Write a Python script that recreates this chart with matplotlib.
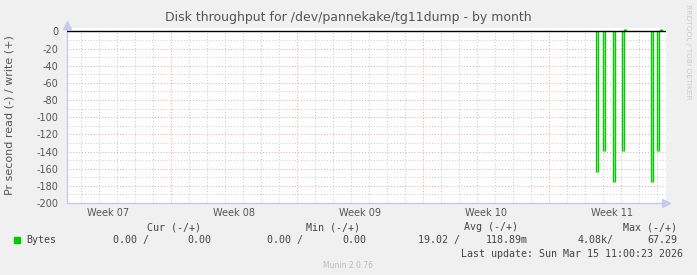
import numpy as np
import matplotlib
matplotlib.use("Agg")
import matplotlib.pyplot as plt

# days counted from Monday of week 07 (00:00)
spike_days = [30.68, 31.04, 31.63, 32.11, 33.71, 34.04]
spike_read = [-164, -139, -176, -139, -176, -139]
write_days = [32.22, 34.22]
write_vals = [3, 3]

week_labels = ["Week 07", "Week 08", "Week 09", "Week 10", "Week 11"]
x_start, x_end = 1.22, 34.5

legend_heads = ["Cur (-/+)", "Min (-/+)", "Avg (-/+)", "Max (-/+)"]
legend_name = "Bytes"
legend_vals = [("0.00 /", "0.00"), ("0.00 /", "0.00"),
               ("19.02 /", "118.89m"), ("4.08k/", "67.29")]
last_update = "Last update: Sun Mar 15 11:00:23 2026"

W, H = 697, 275
fig = plt.figure(figsize=(W / 100, H / 100), dpi=100, facecolor="#f0f0f0")
ax = fig.add_axes([67 / W, (H - 203) / H, (666 - 67) / W, (203 - 28) / H])
ax.set_facecolor("white")
ax.set_xlim(x_start, x_end)
ax.set_ylim(-200, 4)

# grid: gray dotted minor, reddish dotted major
for d in np.arange(0, 36, 1):
    if d % 7 == 0:
        ax.axvline(d, color="#f0a0a0", lw=0.7, ls=(0, (1, 2)), zorder=1)
    else:
        ax.axvline(d, color="#c8c8c8", lw=0.7, ls=(0, (1, 2)), zorder=1)
for v in np.arange(-200, 1, 10):
    if v % 20 == 0:
        ax.axhline(v, color="#f0a0a0", lw=0.7, ls=(0, (1, 2)), zorder=1)
    else:
        ax.axhline(v, color="#c8c8c8", lw=0.7, ls=(0, (1, 2)), zorder=1)

# data
ax.vlines(spike_days, 0, spike_read, color="#00cc00", lw=2.4, zorder=3)
ax.vlines(spike_days, 0, spike_read, color="#7ee07e", lw=0.7, zorder=3)
ax.vlines(write_days, 0, write_vals, color="#00cc00", lw=2.4, zorder=3)
ax.axhline(0, color="black", lw=1.0, zorder=4)

# axes styling
for s in ["top", "right"]:
    ax.spines[s].set_visible(False)
for s in ["left", "bottom"]:
    ax.spines[s].set_color("#c8c8ee")
    ax.spines[s].set_linewidth(1.0)
ax.plot([1], [0], marker=">", color="#c8c8ee", markersize=6,
        transform=ax.transAxes, clip_on=False)
ax.plot([0], [1.015], marker="^", color="#c8c8ee", markersize=6,
        transform=ax.transAxes, clip_on=False)

ax.set_yticks(np.arange(-200, 1, 20))
ax.set_yticklabels([str(v) for v in range(-200, 1, 20)])
ax.set_xticks([7 * i + 3.5 for i in range(len(week_labels))])
ax.set_xticklabels(week_labels)
ax.tick_params(axis="both", length=0, labelsize=7, labelcolor="#555555")
ax.tick_params(axis="x", pad=3.5)
ax.tick_params(axis="y", pad=6)

fig.text(348 / W, 1 - 18 / H, "Disk throughput for /dev/pannekake/tg11dump - by month",
         ha="center", va="center", fontsize=9, color="#555555")
fig.text(10 / W, 1 - 115 / H, "Pr second read (-) / write (+)", rotation=90,
         ha="center", va="center", fontsize=8, color="#555555")
fig.text(688 / W, 1 - 52 / H, "RRDTOOL / TOBI OETIKER", rotation=270,
         ha="center", va="center", fontsize=5.4, color="#cccccc")

# legend
mono = dict(family="DejaVu Sans Mono", fontsize=7.2, color="#444444", va="center")
for head, xr in zip(legend_heads, [201, 360, 518, 677]):
    fig.text(xr / W, 1 - 227 / H, head, ha="right", **mono)
fig.patches.append(plt.Rectangle((14 / W, 1 - 243 / H), 6 / W, 6 / H,
                                 color="#00cc00", transform=fig.transFigure))
fig.text(26 / W, 1 - 240 / H, legend_name, ha="left", **mono)
for (a, b), xa, xb in zip(legend_vals, [149, 303, 460, 614], [211, 366, 528, 677]):
    fig.text(xa / W, 1 - 240 / H, a, ha="right", **mono)
    fig.text(xb / W, 1 - 240 / H, b, ha="right", **mono)
fig.text(683 / W, 1 - 254 / H, last_update, ha="right", **mono)
fig.text(348 / W, 1 - 265 / H, "Munin 2.0.76", ha="center", va="center",
         fontsize=5.5, color="#bbbbbb")

fig.savefig("out.png", dpi=100, facecolor=fig.get_facecolor())
